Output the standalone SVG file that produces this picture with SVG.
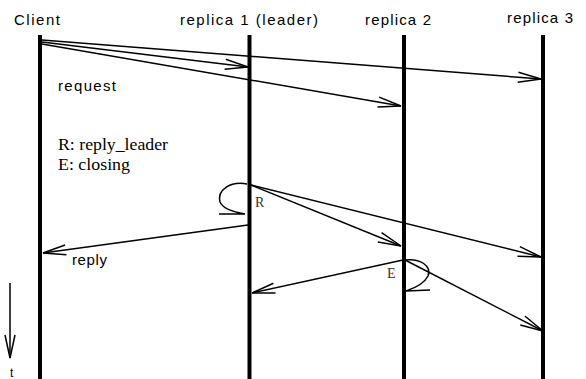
<svg xmlns="http://www.w3.org/2000/svg" width="586" height="379" viewBox="0 0 586 379">
<defs>
<style>
.life{stroke:#000;stroke-width:4;fill:none}
.msg{stroke:#000;stroke-width:1.5;fill:none;marker-end:url(#ah)}
.loop{stroke:#000;stroke-width:1.5;fill:none}
.lbl{font-family:"Liberation Sans",Arial,sans-serif;font-size:15px;fill:#000}
.note{font-family:"Liberation Serif","Times New Roman",serif;font-size:16px;fill:#000}
.mono{font-family:"Liberation Serif","Times New Roman",serif;font-size:14px;fill:#333}
</style>
<marker id="ah" markerUnits="userSpaceOnUse" orient="auto" markerWidth="30" markerHeight="14" refX="24" refY="7" viewBox="0 0 30 14">
<path d="M1,2 L24,7 L1,12" fill="none" stroke="#000" stroke-width="1.5"/>
</marker>
</defs>
<rect width="586" height="379" fill="#fff"/>
<g id="client">
<text class="lbl" x="14" y="25" textLength="46" lengthAdjust="spacing">Client</text>
<line class="life" x1="40" y1="35" x2="40" y2="379"/>
</g>
<g id="replica1">
<text class="lbl" x="180" y="25" textLength="138" lengthAdjust="spacing">replica 1 (leader)</text>
<line class="life" x1="249.5" y1="35" x2="249.5" y2="379"/>
</g>
<g id="replica2">
<text class="lbl" x="365" y="25" textLength="66" lengthAdjust="spacing">replica 2</text>
<line class="life" x1="404" y1="35" x2="404" y2="379"/>
</g>
<g id="replica3">
<text class="lbl" x="507" y="23" textLength="66" lengthAdjust="spacing">replica 3</text>
<line class="life" x1="543" y1="35" x2="543" y2="379"/>
</g>
<g id="legend">
<text class="note" x="58" y="150" textLength="110" lengthAdjust="spacingAndGlyphs">R: reply_leader</text>
<text class="note" x="58" y="170" textLength="72" lengthAdjust="spacingAndGlyphs">E: closing</text>
</g>
<g id="time">
<line class="msg" x1="10" y1="283" x2="10" y2="358"/>
<text class="lbl" x="10" y="377" style="font-size:12px">t</text>
</g>
<g id="connectors">
<line class="msg" x1="42" y1="42" x2="248" y2="67"/>
<line class="msg" x1="42" y1="44" x2="401" y2="106"/>
<line class="msg" x1="42" y1="40" x2="541" y2="79"/>
<text class="lbl" x="58" y="91" textLength="58" lengthAdjust="spacing">request</text>
<path class="loop" d="M247,184 C230,181 217,190 220,202 C223,209 233,212 245,214 M245,214 L219,214"/>
<text class="mono" x="255" y="207">R</text>
<line class="msg" x1="251" y1="185" x2="401" y2="246"/>
<line class="msg" x1="251" y1="185" x2="541" y2="257"/>
<line class="msg" x1="248" y1="225" x2="43" y2="253"/>
<text class="lbl" x="72" y="265" textLength="35" lengthAdjust="spacing">reply</text>
<line class="msg" x1="403" y1="260" x2="252" y2="293"/>
<line class="msg" x1="405" y1="260" x2="543" y2="331"/>
<path class="loop" d="M405,260 C420,258 432,266 428,276 C424,284 415,288 406,291 M406,291 L430,290"/>
<text class="mono" x="387" y="278">E</text>
</g>
</svg>
